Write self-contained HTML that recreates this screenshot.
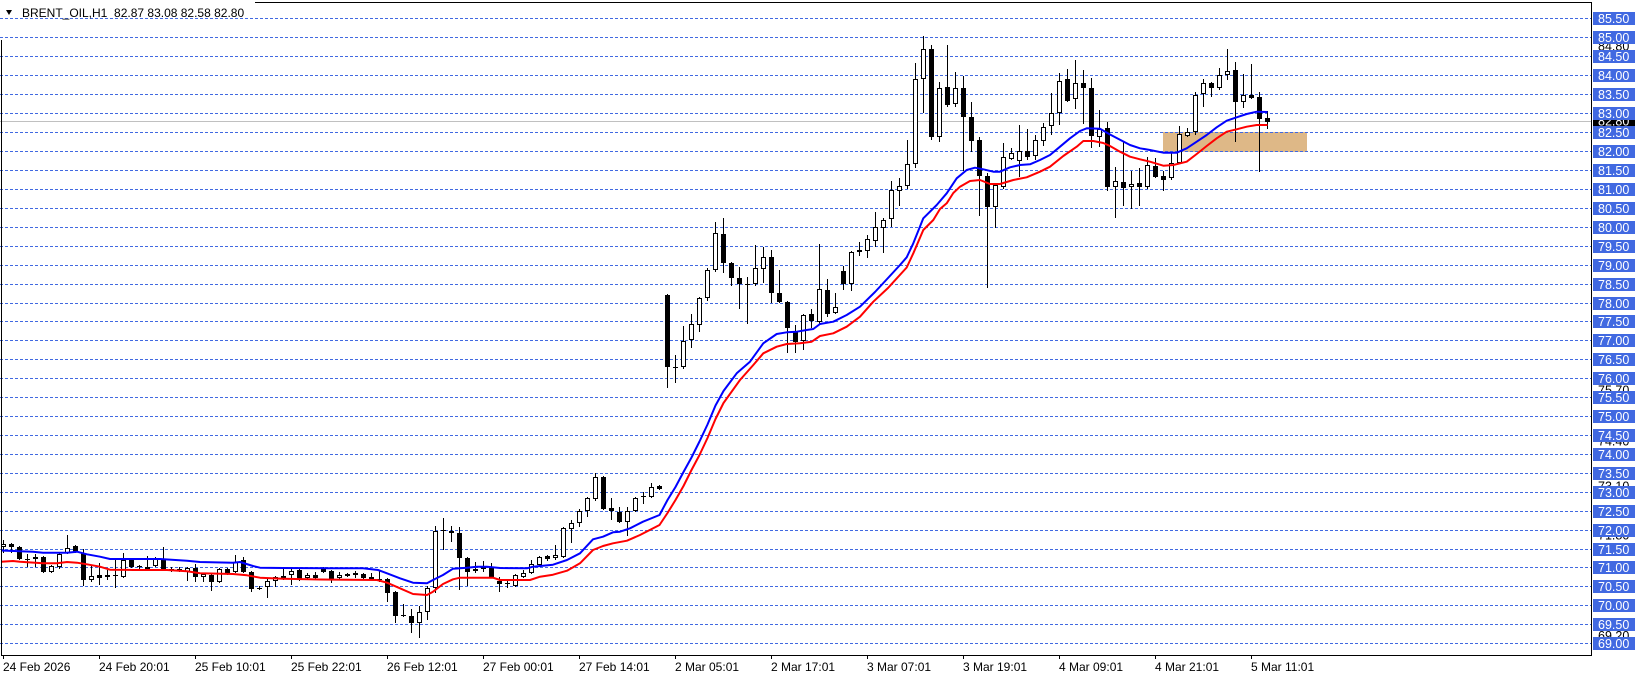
<!DOCTYPE html>
<html><head><meta charset="utf-8"><style>html,body{margin:0;padding:0;background:#fff;}svg{display:block}</style></head>
<body>
<svg width="1641" height="679" xmlns="http://www.w3.org/2000/svg" font-family="'Liberation Sans', sans-serif">
<rect width="1641" height="679" fill="#fff"/>
<!-- zone -->
<rect x="1163" y="132" width="144" height="20" fill="#DEB887"/>
<!-- grid -->
<path stroke="#4169E1" stroke-width="1" stroke-dasharray="3,2" fill="none" d="M0 18.5H1591M0 37.5H1591M0 56.5H1591M0 75.5H1591M0 94.5H1591M0 113.5H1591M0 132.5H1591M0 151.5H1591M0 170.5H1591M0 189.5H1591M0 208.5H1591M0 227.5H1591M0 246.5H1591M0 265.5H1591M0 284.5H1591M0 303.5H1591M0 321.5H1591M0 340.5H1591M0 359.5H1591M0 378.5H1591M0 397.5H1591M0 416.5H1591M0 435.5H1591M0 454.5H1591M0 473.5H1591M0 492.5H1591M0 511.5H1591M0 530.5H1591M0 549.5H1591M0 567.5H1591M0 586.5H1591M0 605.5H1591M0 624.5H1591M0 643.5H1591"/>
<!-- current price line -->
<path d="M0 121.5H1591" stroke="#C0C0C0" stroke-width="1"/>
<!-- wicks -->
<path stroke="#000" stroke-width="1" fill="none" d="M3.5 540V553M11.5 543V553M19.5 546V560M27.5 554V567M35.5 554V567M43.5 556V573M51.5 565V573M59.5 553V569M67.5 535V554M75.5 545V553M83.5 549V586M91.5 565V582M99.5 563V585M107.5 570V580M115.5 558V588M123.5 553V578M131.5 559V568M139.5 565V569M147.5 556V570M155.5 557V567M163.5 547V570M171.5 567V572M179.5 567V572M187.5 567V581M195.5 564V582M203.5 573V582M211.5 573V591M219.5 568V583M227.5 568V575M235.5 555V573M243.5 557V573M251.5 571V592M259.5 586V590M267.5 579V598M275.5 576V587M283.5 569V580M291.5 569V585M299.5 569V581M307.5 573V580M315.5 572V580M323.5 567V573M331.5 570V583M339.5 572V579M347.5 573V577M355.5 571V578M363.5 573V579M371.5 573V580M379.5 570V582M387.5 578V602M395.5 591V623M403.5 604V617M411.5 609V633M419.5 606V638M427.5 586V620M435.5 526V593M443.5 518V550M451.5 526V542M459.5 527V590M467.5 557V586M475.5 562V573M483.5 561V572M491.5 563V578M499.5 577V592M507.5 580V588M515.5 574V587M523.5 570V578M531.5 560V574M539.5 556V566M547.5 555V561M555.5 545V560M563.5 527V558M571.5 520V543M579.5 509V527M587.5 497V517M595.5 473V501M603.5 476V510M611.5 498V520M619.5 507V523M627.5 507V536M635.5 497V512M643.5 492V504M651.5 483V498M659.5 485V490M667.5 294V388M675.5 355V383M683.5 326V369M691.5 314V348M699.5 297V332M707.5 268V301M715.5 222V272M723.5 218V273M731.5 262V286M739.5 267V309M747.5 277V324M755.5 245V286M763.5 247V283M771.5 250V303M779.5 270V303M787.5 301V353M795.5 325V353M803.5 314V350M811.5 309V328M819.5 244V324M827.5 279V317M835.5 293V314M843.5 266V290M851.5 251V291M859.5 242V256M867.5 235V258M875.5 212V247M883.5 218V253M891.5 181V227M899.5 178V206M907.5 140V189M915.5 63V168M923.5 36V113M931.5 45V140M939.5 82V142M947.5 45V107M955.5 72V107M963.5 76V171M971.5 102V152M979.5 137V216M987.5 173V288M995.5 183V228M1003.5 143V189M1011.5 148V160M1019.5 125V177M1027.5 129V160M1035.5 135V160M1043.5 123V146M1051.5 93V135M1059.5 73V125M1067.5 69V102M1075.5 60V109M1083.5 70V124M1091.5 78V148M1099.5 110V147M1107.5 122V191M1115.5 167V218M1123.5 142V206M1131.5 171V209M1139.5 168V206M1147.5 157V189M1155.5 158V178M1163.5 171V191M1171.5 153V180M1179.5 126V164M1187.5 128V137M1195.5 92V135M1203.5 79V107M1211.5 82V97M1219.5 68V90M1227.5 49V80M1235.5 62V142M1243.5 74V108M1251.5 64V99M1259.5 92V172M1267.5 111V129"/>
<!-- bear bodies -->
<path fill="#000" d="M9 544h5v3h-5zM17 547h5v12h-5zM25 559h5v1h-5zM41 557h5v15h-5zM73 546h5v6h-5zM81 553h5v27h-5zM97 575h5v3h-5zM105 575h5v2h-5zM113 575h5v1h-5zM129 560h5v7h-5zM137 566h5v1h-5zM161 559h5v10h-5zM169 569h5v2h-5zM177 569h5v2h-5zM193 568h5v9h-5zM209 575h5v7h-5zM225 569h5v4h-5zM241 560h5v12h-5zM249 572h5v17h-5zM257 588h5v1h-5zM297 570h5v9h-5zM313 575h5v3h-5zM321 568h5v4h-5zM329 571h5v8h-5zM345 574h5v2h-5zM353 573h5v2h-5zM361 574h5v4h-5zM369 577h5v2h-5zM377 579h5v1h-5zM385 579h5v14h-5zM393 592h5v24h-5zM401 615h5v1h-5zM409 616h5v7h-5zM441 530h5v1h-5zM449 531h5v2h-5zM457 533h5v25h-5zM465 558h5v14h-5zM489 568h5v9h-5zM497 581h5v3h-5zM505 583h5v1h-5zM545 556h5v3h-5zM601 477h5v32h-5zM609 508h5v3h-5zM617 512h5v10h-5zM641 496h5v1h-5zM657 486h5v3h-5zM665 295h5v72h-5zM673 367h5v1h-5zM721 234h5v29h-5zM729 263h5v15h-5zM737 278h5v6h-5zM745 284h5v1h-5zM769 257h5v36h-5zM777 293h5v9h-5zM785 302h5v26h-5zM793 331h5v11h-5zM809 314h5v7h-5zM825 290h5v24h-5zM841 271h5v13h-5zM929 49h5v88h-5zM945 87h5v18h-5zM961 88h5v29h-5zM969 117h5v24h-5zM977 140h5v36h-5zM985 176h5v31h-5zM1025 151h5v6h-5zM1065 79h5v22h-5zM1081 83h5v5h-5zM1089 88h5v48h-5zM1105 128h5v59h-5zM1121 182h5v6h-5zM1137 183h5v4h-5zM1153 166h5v11h-5zM1161 176h5v4h-5zM1209 83h5v5h-5zM1233 70h5v32h-5zM1249 95h5v3h-5zM1257 97h5v22h-5zM1265 118h5v4h-5z"/>
<!-- bull bodies -->
<g fill="#fff" stroke="#000" stroke-width="1">
<rect x="1.5" y="544.5" width="4" height="2"/><rect x="33.5" y="557.5" width="4" height="1"/><rect x="49.5" y="566.5" width="4" height="5"/><rect x="57.5" y="554.5" width="4" height="12"/><rect x="65.5" y="548.5" width="4" height="4"/><rect x="89.5" y="576.5" width="4" height="3"/><rect x="121.5" y="560.5" width="4" height="16"/><rect x="145.5" y="567.5" width="4" height="1"/><rect x="153.5" y="558.5" width="4" height="7"/><rect x="185.5" y="568.5" width="4" height="3"/><rect x="201.5" y="574.5" width="4" height="2"/><rect x="217.5" y="569.5" width="4" height="12"/><rect x="233.5" y="562.5" width="4" height="9"/><rect x="265.5" y="581.5" width="4" height="5"/><rect x="273.5" y="577.5" width="4" height="3"/><rect x="281.5" y="576.5" width="4" height="1"/><rect x="289.5" y="571.5" width="4" height="3"/><rect x="305.5" y="575.5" width="4" height="2"/><rect x="337.5" y="575.5" width="4" height="2"/><rect x="417.5" y="612.5" width="4" height="10"/><rect x="425.5" y="588.5" width="4" height="23"/><rect x="433.5" y="531.5" width="4" height="56"/><rect x="473.5" y="569.5" width="4" height="1"/><rect x="481.5" y="567.5" width="4" height="1"/><rect x="513.5" y="575.5" width="4" height="10"/><rect x="521.5" y="573.5" width="4" height="3"/><rect x="529.5" y="564.5" width="4" height="8"/><rect x="537.5" y="557.5" width="4" height="7"/><rect x="553.5" y="555.5" width="4" height="2"/><rect x="561.5" y="528.5" width="4" height="28"/><rect x="569.5" y="523.5" width="4" height="5"/><rect x="577.5" y="511.5" width="4" height="11"/><rect x="585.5" y="498.5" width="4" height="12"/><rect x="593.5" y="477.5" width="4" height="21"/><rect x="625.5" y="511.5" width="4" height="10"/><rect x="633.5" y="498.5" width="4" height="12"/><rect x="649.5" y="487.5" width="4" height="9"/><rect x="681.5" y="341.5" width="4" height="25"/><rect x="689.5" y="324.5" width="4" height="15"/><rect x="697.5" y="298.5" width="4" height="26"/><rect x="705.5" y="270.5" width="4" height="27"/><rect x="713.5" y="233.5" width="4" height="36"/><rect x="753.5" y="268.5" width="4" height="15"/><rect x="761.5" y="257.5" width="4" height="11"/><rect x="801.5" y="315.5" width="4" height="25"/><rect x="817.5" y="289.5" width="4" height="32"/><rect x="833.5" y="307.5" width="4" height="5"/><rect x="849.5" y="252.5" width="4" height="31"/><rect x="857.5" y="250.5" width="4" height="1"/><rect x="865.5" y="239.5" width="4" height="11"/><rect x="873.5" y="227.5" width="4" height="13"/><rect x="881.5" y="220.5" width="4" height="7"/><rect x="889.5" y="190.5" width="4" height="28"/><rect x="897.5" y="186.5" width="4" height="4"/><rect x="905.5" y="164.5" width="4" height="21"/><rect x="913.5" y="79.5" width="4" height="84"/><rect x="921.5" y="49.5" width="4" height="29"/><rect x="937.5" y="88.5" width="4" height="48"/><rect x="953.5" y="88.5" width="4" height="15"/><rect x="993.5" y="185.5" width="4" height="21"/><rect x="1001.5" y="157.5" width="4" height="29"/><rect x="1009.5" y="153.5" width="4" height="5"/><rect x="1017.5" y="151.5" width="4" height="9"/><rect x="1033.5" y="140.5" width="4" height="15"/><rect x="1041.5" y="127.5" width="4" height="13"/><rect x="1049.5" y="113.5" width="4" height="12"/><rect x="1057.5" y="81.5" width="4" height="31"/><rect x="1073.5" y="83.5" width="4" height="15"/><rect x="1097.5" y="129.5" width="4" height="7"/><rect x="1113.5" y="181.5" width="4" height="5"/><rect x="1129.5" y="184.5" width="4" height="2"/><rect x="1145.5" y="165.5" width="4" height="21"/><rect x="1169.5" y="163.5" width="4" height="14"/><rect x="1177.5" y="134.5" width="4" height="28"/><rect x="1185.5" y="132.5" width="4" height="3"/><rect x="1193.5" y="95.5" width="4" height="36"/><rect x="1201.5" y="83.5" width="4" height="10"/><rect x="1217.5" y="75.5" width="4" height="12"/><rect x="1225.5" y="71.5" width="4" height="3"/><rect x="1241.5" y="95.5" width="4" height="6"/>
</g>
<!-- MAs -->
<polyline fill="none" stroke="#FF0000" stroke-width="2" stroke-linejoin="round" points="1,561.7 13,561 20,561.7 43,563.3 57,563.3 67,562 77,562.7 87,564.3 100,566.7 110,569.7 133,570 167,570 187,571.3 200,573.3 233,574 247,575.3 260,577.7 283,578.7 320,579.5 377,580 387,582.7 400,588.3 413,594 427,595 433,591.7 443,584 453,579.3 460,577.7 493,577.7 500,580 530,580 540,576.7 553,574.7 567,570.7 580,563.3 593,550 603,546 613,543.3 627,540.7 640,535 659.5,525 667.5,513 675.5,500 683.5,486 691.5,470 699.5,455 707.5,438 715.5,419 723.5,403 740,380 753.3,365 763.3,353.3 776.7,346.7 786.7,344 800,343.3 811.7,341.7 820,336 833.3,333.3 846.7,326.7 860,316.7 873.3,301.7 888,288 906.7,267.5 913.3,253.3 923.3,230 933.3,220 940,209 946.7,203.3 953.3,193 960,186.7 970,181 980,180 990,184 1000,184 1013.3,180 1026.7,177.3 1040,171.7 1050,166.7 1063.3,156 1076.7,146.7 1083.3,141 1093.3,141 1103.3,143 1110,146 1120,151.7 1130,156.7 1140,159.3 1150,161.7 1163.3,165.7 1173.3,165 1186.7,161.7 1196.7,154 1206.7,146 1216.7,138.3 1226.7,131.7 1236.7,129.3 1246.7,126.7 1256.7,125 1267.5,125"/>
<polyline fill="none" stroke="#0000FF" stroke-width="2" stroke-linejoin="round" points="1,550.5 33,551.7 43,552.7 67,552.7 77,551.7 87,554.3 100,556.7 110,559 133,559 160,559 187,560.7 200,562 233,562.7 240,562 253,566 260,567.7 283,568 330,568.3 363,568.3 378,570 387,573.3 400,578.3 413,582.7 427,583.3 433,580 443,575 453,568.7 467,567.7 477,566.7 487,566.7 500,568 527,568.3 533,566.7 553,564.7 567,560 580,553.3 593,539.3 603,536.7 613,532.3 620,531.7 630,528.3 643,521.7 659.5,515 667.5,500 675.5,487 683.5,472 691.5,457.5 699.5,441.5 707.5,424.5 715.5,405.5 723.5,391 736.7,373.3 750,361.7 763.3,343.3 776.7,334 786.7,332.3 796.7,331.7 806.7,330 813.3,329 820,324 833.3,321.7 846.7,315 860,306.7 875,292 888,278 900,265 906.7,257.3 913.3,243.3 923.3,218.3 936.7,205 946.7,193.3 956.7,178.3 966.7,170 975,167.7 983.3,169.3 993.3,171.7 1000,171.7 1010,167.3 1020,165 1030,164.3 1040,160 1050,155 1060,146.7 1070,138.3 1080,131 1086.7,128.3 1100,128.7 1110,134.5 1120,139.7 1130,145 1140,148.3 1150,150 1163.3,152.7 1176.7,152.7 1186.7,148.3 1196.7,141.7 1206.7,135 1216.7,127.3 1226.7,120.7 1236.7,117.3 1246.7,114 1256.7,111.7 1267.5,112"/>
<!-- frame -->
<path d="M1.5 40V655.5H1591.5V2.5H255" stroke="#000" stroke-width="1" fill="none"/>
<!-- x ticks -->
<path stroke="#000" stroke-width="1" d="M3.5 656V659M99.5 656V659M195.5 656V659M291.5 656V659M387.5 656V659M483.5 656V659M579.5 656V659M675.5 656V659M771.5 656V659M867.5 656V659M963.5 656V659M1059.5 656V659M1155.5 656V659M1251.5 656V659"/>
<g font-size="12" fill="#000">
<text x="3" y="671">24 Feb 2026</text>
<text x="99" y="671">24 Feb 20:01</text>
<text x="195" y="671">25 Feb 10:01</text>
<text x="291" y="671">25 Feb 22:01</text>
<text x="387" y="671">26 Feb 12:01</text>
<text x="483" y="671">27 Feb 00:01</text>
<text x="579" y="671">27 Feb 14:01</text>
<text x="675" y="671">2 Mar 05:01</text>
<text x="771" y="671">2 Mar 17:01</text>
<text x="867" y="671">3 Mar 07:01</text>
<text x="963" y="671">3 Mar 19:01</text>
<text x="1059" y="671">4 Mar 09:01</text>
<text x="1155" y="671">4 Mar 21:01</text>
<text x="1251" y="671">5 Mar 11:01</text>
</g>
<!-- header -->
<polygon points="6,10 12,10 9,15" fill="#000"/>
<text x="22" y="17" font-size="12" fill="#000" style="white-space:pre">BRENT_OIL,H1  82.87 83.08 82.58 82.80</text>
<!-- hidden labels behind -->
<g font-size="12.5">
<rect x="1593" y="39.5" width="42" height="13" fill="#fff"/><text x="1598" y="50.5" fill="#000">84.80</text>
<rect x="1593" y="383.5" width="42" height="13" fill="#fff"/><text x="1598" y="394.5" fill="#000">75.70</text>
<rect x="1593" y="434.5" width="42" height="13" fill="#fff"/><text x="1598" y="445.5" fill="#000">74.40</text>
<rect x="1593" y="479.5" width="42" height="13" fill="#fff"/><text x="1598" y="490.5" fill="#000">73.10</text>
<rect x="1593" y="528.5" width="42" height="13" fill="#fff"/><text x="1598" y="539.5" fill="#000">71.80</text>
<rect x="1593" y="629" width="42" height="13" fill="#fff"/><text x="1598" y="640" fill="#000">69.20</text>
<rect x="1593" y="114.5" width="42" height="13" fill="#000"/><text x="1598" y="125.5" fill="#fff">82.80</text>
</g>
<!-- price labels -->
<g fill="#4169E1">
<rect x="1593" y="12" width="42" height="13"/><rect x="1593" y="31" width="42" height="13"/><rect x="1593" y="50" width="42" height="13"/><rect x="1593" y="69" width="42" height="13"/><rect x="1593" y="88" width="42" height="13"/><rect x="1593" y="107" width="42" height="13"/><rect x="1593" y="126" width="42" height="13"/><rect x="1593" y="145" width="42" height="13"/><rect x="1593" y="164" width="42" height="13"/><rect x="1593" y="183" width="42" height="13"/><rect x="1593" y="202" width="42" height="13"/><rect x="1593" y="221" width="42" height="13"/><rect x="1593" y="240" width="42" height="13"/><rect x="1593" y="259" width="42" height="13"/><rect x="1593" y="278" width="42" height="13"/><rect x="1593" y="297" width="42" height="13"/><rect x="1593" y="315" width="42" height="13"/><rect x="1593" y="334" width="42" height="13"/><rect x="1593" y="353" width="42" height="13"/><rect x="1593" y="372" width="42" height="13"/><rect x="1593" y="391" width="42" height="13"/><rect x="1593" y="410" width="42" height="13"/><rect x="1593" y="429" width="42" height="13"/><rect x="1593" y="448" width="42" height="13"/><rect x="1593" y="467" width="42" height="13"/><rect x="1593" y="486" width="42" height="13"/><rect x="1593" y="505" width="42" height="13"/><rect x="1593" y="524" width="42" height="13"/><rect x="1593" y="543" width="42" height="13"/><rect x="1593" y="561" width="42" height="13"/><rect x="1593" y="580" width="42" height="13"/><rect x="1593" y="599" width="42" height="13"/><rect x="1593" y="618" width="42" height="13"/><rect x="1593" y="637" width="42" height="13"/>
</g>
<g fill="#fff" font-size="12.5">
<text x="1598" y="23">85.50</text><text x="1598" y="42">85.00</text><text x="1598" y="61">84.50</text><text x="1598" y="80">84.00</text><text x="1598" y="99">83.50</text><text x="1598" y="118">83.00</text><text x="1598" y="137">82.50</text><text x="1598" y="156">82.00</text><text x="1598" y="175">81.50</text><text x="1598" y="194">81.00</text><text x="1598" y="213">80.50</text><text x="1598" y="232">80.00</text><text x="1598" y="251">79.50</text><text x="1598" y="270">79.00</text><text x="1598" y="289">78.50</text><text x="1598" y="308">78.00</text><text x="1598" y="326">77.50</text><text x="1598" y="345">77.00</text><text x="1598" y="364">76.50</text><text x="1598" y="383">76.00</text><text x="1598" y="402">75.50</text><text x="1598" y="421">75.00</text><text x="1598" y="440">74.50</text><text x="1598" y="459">74.00</text><text x="1598" y="478">73.50</text><text x="1598" y="497">73.00</text><text x="1598" y="516">72.50</text><text x="1598" y="535">72.00</text><text x="1598" y="554">71.50</text><text x="1598" y="572">71.00</text><text x="1598" y="591">70.50</text><text x="1598" y="610">70.00</text><text x="1598" y="629">69.50</text><text x="1598" y="648">69.00</text>
</g>
</svg>
</body></html>
